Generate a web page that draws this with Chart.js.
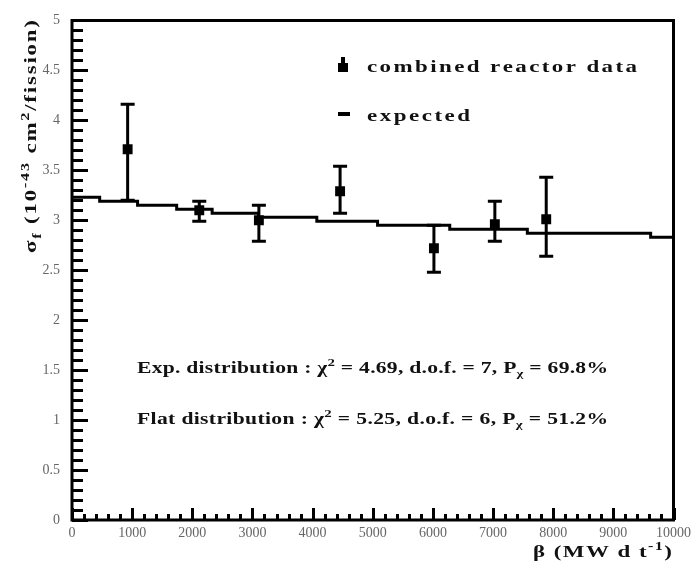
<!DOCTYPE html>
<html><head><meta charset="utf-8">
<script src="https://cdn.jsdelivr.net/npm/chart.js@4.4.1/dist/chart.umd.min.js"></script>
<style>html,body{margin:0;padding:0;background:#fff;}canvas{display:block;}</style>
</head><body>
<canvas id="c" width="696" height="569"></canvas>
<script>
// ---- data ----
const burnup      = [925, 2116, 3107, 4457, 6017, 7030, 7884];
const yieldValues = [3.71, 3.10, 3.00, 3.29, 2.72, 2.96, 3.01];
const errLow      = [0.51, 0.11, 0.21, 0.22, 0.24, 0.17, 0.37];
const errHigh     = [0.45, 0.09, 0.15, 0.25, 0.23, 0.23, 0.42];
const expEdges    = [0, 460, 1090, 1740, 2330, 3100, 4070, 5080, 6280, 7570, 9620, 10000];
const expValues   = [3.23, 3.19, 3.15, 3.11, 3.07, 3.03, 2.99, 2.95, 2.91, 2.87, 2.83];
const xTickValues = [0, 1000, 2000, 3000, 4000, 5000, 6000, 7000, 8000, 9000, 10000];
const xTickLabels = ['0','1000','2000','3000','4000','5000','6000','7000','8000','9000','10000'];
const yTickValues = [0, 0.5, 1, 1.5, 2, 2.5, 3, 3.5, 4, 4.5, 5];
const yTickLabels = ['0','0.5','1','1.5','2','2.5','3','3.5','4','4.5','5'];
const legendLabels = ['combined reactor data', 'expected'];
const fitLines = [
  [{t:'Exp. distribution : '},{t:'χ'},{t:'2',sup:true},{t:' = 4.69, d.o.f. = 7, P'},{t:'χ',sub:true},{t:' = 69.8%'}],
  [{t:'Flat distribution : '},{t:'χ'},{t:'2',sup:true},{t:' = 5.25, d.o.f. = 6, P'},{t:'χ',sub:true},{t:' = 51.2%'}]
];
const xTitle = [{t:'β (MW d t'},{t:'-1',sup:true},{t:')'}];
const yTitle = [{t:'σ'},{t:'f',sub:true},{t:' (10'},{t:'-43',sup:true},{t:' cm'},{t:'2',sup:true},{t:'/fission)'}];

const stepPoints = expEdges.map((e, i) => ({x: e, y: expValues[Math.min(i, expValues.length - 1)]}));
const points = burnup.map((b, i) => ({x: b, y: yieldValues[i]}));

function drawRich(ctx, segs, x, y, targetW, size, weight, family, color) {
  const fontFor = s => `${weight} ${(s.sup || s.sub) ? Math.round(size * 0.68) : size}px ${family}`;
  let natural = 0, n = 0;
  for (const s of segs) { ctx.font = fontFor(s); for (const ch of s.t) { natural += ctx.measureText(ch).width; n++; } }
  const sx = Math.min(Math.max(targetW / natural, 1), 1.35);
  const ls = (targetW - natural * sx) / Math.max(1, n - 1);
  ctx.save();
  ctx.translate(x, y);
  ctx.fillStyle = color; ctx.textBaseline = 'alphabetic'; ctx.textAlign = 'left';
  let cx = 0;
  for (const s of segs) {
    ctx.font = fontFor(s);
    const dy = s.sup ? -size * 0.42 : s.sub ? size * 0.28 : 0;
    for (const ch of s.t) {
      ctx.save(); ctx.translate(cx, dy); ctx.scale(sx, 1); ctx.fillText(ch, 0, 0); ctx.restore();
      cx += ctx.measureText(ch).width * sx + ls;
    }
  }
  ctx.restore();
}

const rootPlugin = {
  id: 'rootStyle',
  afterDatasetsDraw(chart) {
    const ctx = chart.ctx, xs = chart.scales.x, ys = chart.scales.y, a = chart.chartArea;
    ctx.save();
    ctx.strokeStyle = '#000'; ctx.fillStyle = '#000'; ctx.lineWidth = 3; ctx.lineCap = 'butt';
    // error bars
    burnup.forEach((b, i) => {
      const px = xs.getPixelForValue(b);
      const yt = ys.getPixelForValue(yieldValues[i] + errHigh[i]);
      const yb = ys.getPixelForValue(yieldValues[i] - errLow[i]);
      ctx.beginPath(); ctx.moveTo(px, yt); ctx.lineTo(px, yb);
      ctx.moveTo(px - 7, yt); ctx.lineTo(px + 7, yt);
      ctx.moveTo(px - 7, yb); ctx.lineTo(px + 7, yb);
      ctx.stroke();
    });
    // frame
    ctx.beginPath(); ctx.rect(a.left, a.top, a.right - a.left, a.bottom - a.top); ctx.stroke();
    // y ticks
    ctx.beginPath();
    for (let k = 0; k <= 50; k++) {
      const v = k / 10, py = Math.round(ys.getPixelForValue(v)) + 0.5;
      const len = (k % 5 === 0) ? 16 : 11;
      ctx.moveTo(a.left, py); ctx.lineTo(a.left + len, py);
    }
    ctx.stroke();
    // x ticks
    ctx.beginPath();
    for (let k = 0; k <= 50; k++) {
      const v = k * 200, px = Math.round(xs.getPixelForValue(v)) + 0.5;
      const len = (k % 5 === 0) ? 12 : 6;
      ctx.moveTo(px, a.bottom); ctx.lineTo(px, a.bottom - len);
    }
    ctx.stroke();
    // legend
    ctx.fillRect(338, 63, 10, 9);
    ctx.fillRect(341, 57, 4, 8);
    ctx.fillRect(338, 112, 12, 4);
    const fam = '"Liberation Serif", serif';
    drawRich(ctx, [{t: legendLabels[0]}], 367, 72, 270, 17, 'bold', fam, '#111');
    drawRich(ctx, [{t: legendLabels[1]}], 367, 121, 103, 17, 'bold', fam, '#111');
    // fit results
    drawRich(ctx, fitLines[0], 137, 373, 471, 16, 'bold', fam, '#111');
    drawRich(ctx, fitLines[1], 137, 424, 471, 16, 'bold', fam, '#111');
    // axis titles
    drawRich(ctx, xTitle, 533, 557, 139, 17, 'bold', fam, '#111');
    ctx.translate(36, 253); ctx.rotate(-Math.PI / 2);
    drawRich(ctx, yTitle, 0, 0, 233, 17, 'bold', fam, '#111');
    ctx.restore();
  }
};

new Chart(document.getElementById('c'), {
  type: 'scatter',
  data: {
    datasets: [
      { label: legendLabels[1], type: 'line', data: stepPoints, stepped: 'before',
        borderColor: '#000', borderWidth: 3, pointRadius: 0, fill: false },
      { label: legendLabels[0], data: points, pointStyle: 'rect', pointRadius: 7,
        backgroundColor: '#000', borderColor: '#000', borderWidth: 0, showLine: false }
    ]
  },
  options: {
    responsive: false, animation: false, devicePixelRatio: 1,
    layout: { padding: { top: 13, right: 19, left: 0, bottom: 0 } },
    plugins: { legend: { display: false }, tooltip: { enabled: false } },
    scales: {
      x: {
        type: 'linear', min: 0, max: 10000,
        afterBuildTicks: s => { s.ticks = xTickValues.map(v => ({value: v})); },
        afterFit: s => { s.height = 49; },
        ticks: { callback: (v, i) => xTickLabels[i], padding: 5, maxRotation: 0, autoSkip: false,
                 color: '#666', font: { family: '"Liberation Serif", serif', size: 14 } },
        grid: { display: false, drawTicks: false }, border: { display: false }
      },
      y: {
        type: 'linear', min: 0, max: 5,
        afterBuildTicks: s => { s.ticks = yTickValues.map(v => ({value: v})); },
        afterFit: s => { s.width = 72; },
        ticks: { callback: (v, i) => yTickLabels[i], padding: 12, autoSkip: false,
                 color: '#666', font: { family: '"Liberation Serif", serif', size: 14 } },
        grid: { display: false, drawTicks: false }, border: { display: false }
      }
    }
  },
  plugins: [rootPlugin]
});
</script>
</body></html>
